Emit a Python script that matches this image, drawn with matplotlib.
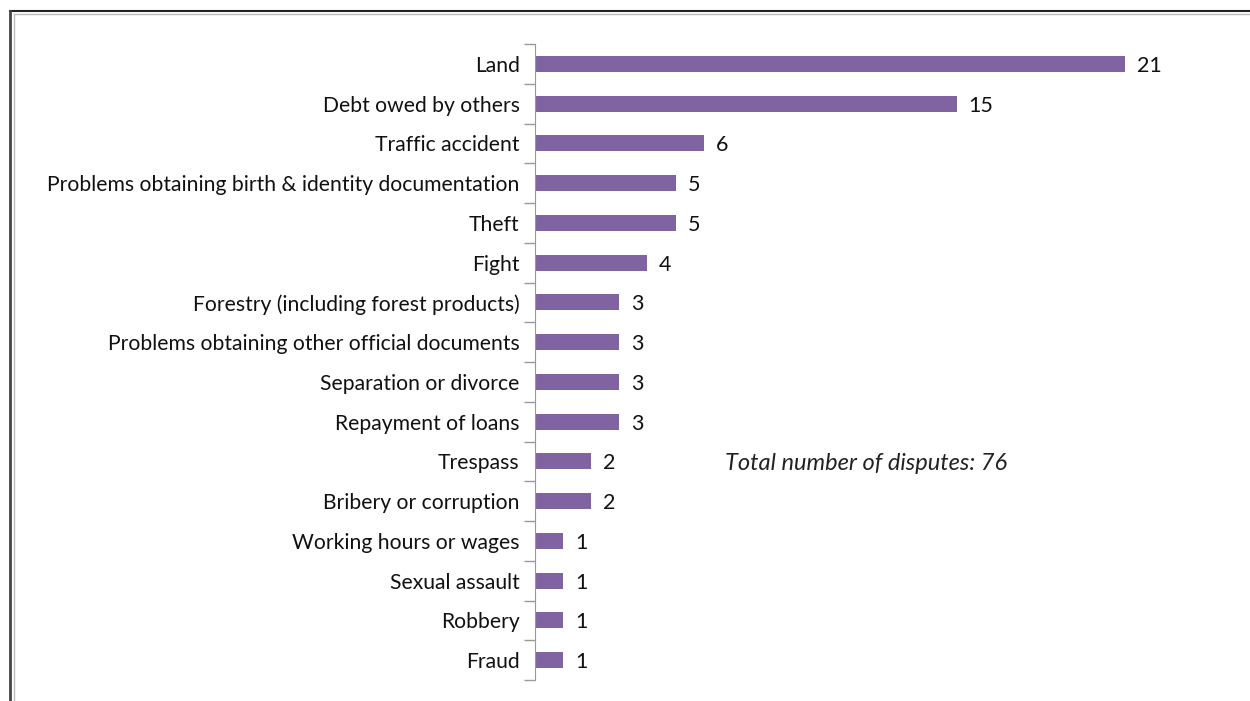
import matplotlib.pyplot as plt
from matplotlib.lines import Line2D
import numpy as np

# dispute types and counts
categories = ['Land', 'Debt owed by others', 'Traffic accident',
              'Problems obtaining birth & identity documentation', 'Theft', 'Fight',
              'Forestry (including forest products)',
              'Problems obtaining other official documents', 'Separation or divorce',
              'Repayment of loans', 'Trespass', 'Bribery or corruption',
              'Working hours or wages', 'Sexual assault', 'Robbery', 'Fraud']
counts = [21, 15, 6, 5, 5, 4, 3, 3, 3, 3, 2, 2, 1, 1, 1, 1]
total = 76

plt.rcParams['font.family'] = ['Lato', 'DejaVu Sans']

W, H = 1250, 701
fig = plt.figure(figsize=(W / 100, H / 100), dpi=100)
ax = fig.add_axes([535 / W, 1 - 680 / H, 690 / W, 636 / H])

y = np.arange(len(categories))
ax.barh(y, counts, height=0.4, color='#8064A2')
for yi, c in zip(y, counts):
    ax.text(c + 0.42, yi, str(c), va='center_baseline', ha='left', fontsize=15.5, color='#111111')

ax.set_ylim(len(categories) - 0.5, -0.5)
ax.set_xlim(0, 690 / 28.1)
ax.set_yticks(y)
ax.set_yticklabels(categories, fontsize=15.2, color='#111111')
ax.tick_params(axis='y', which='major', length=0, pad=11)
ax.set_yticks(np.arange(-0.5, len(categories)), minor=True)
ax.tick_params(axis='y', which='minor', length=8, color='#999999', width=1)
ax.set_xticks([])
for s in ['top', 'right', 'bottom']:
    ax.spines[s].set_visible(False)
ax.spines['left'].set_color('#999999')

# note with the overall total, placed in pixel coordinates
fig.text(725 / W, 1 - 461 / H, 'Total number of disputes: %d' % total,
         fontsize=17, style='italic', color='#222222', va='center_baseline')

# frame lines around the chart area
fig.add_artist(Line2D([10 / W, 1], [1 - 10.5 / H] * 2, transform=fig.transFigure, color='#222222', lw=1.5))
fig.add_artist(Line2D([10 / W] * 2, [0, 1 - 10.5 / H], transform=fig.transFigure, color='#444444', lw=2))
fig.add_artist(Line2D([13.5 / W, 1], [1 - 14 / H] * 2, transform=fig.transFigure, color='#bbbbbb', lw=1))
fig.add_artist(Line2D([13.5 / W] * 2, [0, 1 - 14 / H], transform=fig.transFigure, color='#bbbbbb', lw=1))

fig.savefig('out.png', dpi=100)
